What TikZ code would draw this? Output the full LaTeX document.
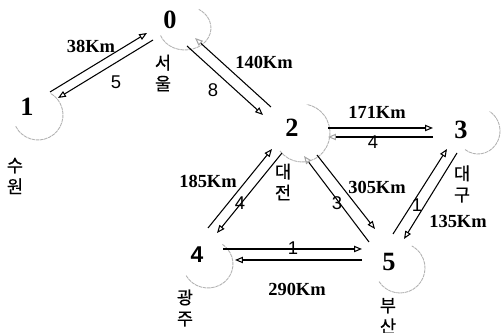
\documentclass[tikz,border=0pt]{standalone}
\usepackage{fontspec}
\setmainfont{Liberation Serif}
\newfontfamily\sansf{Liberation Sans}
\newfontfamily\kr[FakeBold=0.6]{Noto Sans CJK KR}
\usetikzlibrary{arrows.meta}
\begin{document}
\begin{tikzpicture}[x=0.02cm,y=-0.02cm,
  num/.style={font=\fontsize{15}{15}\selectfont\bfseries, inner sep=0pt},
  numsans/.style={font=\sansf\fontsize{13}{13}\selectfont\bfseries, inner sep=0pt},
  km/.style={font=\fontsize{10.5}{10.5}\selectfont\bfseries, inner sep=0pt},
  lab/.style={font=\sansf\fontsize{10.5}{10.5}\selectfont, inner sep=0pt},
  city/.style={font=\kr\fontsize{10}{12}\selectfont, inner sep=0pt, align=center},
  arr/.style={line width=0.6pt, -{Triangle[open,length=4.5pt,width=3.6pt]}},
  garr/.style={line width=0.6pt, -{Triangle[open,length=4.5pt,width=3.6pt,color=gray!70]}},
  ring/.style={gray!60, line width=0.5pt, dash pattern=on 2pt off 0.4pt}]
\useasboundingbox (0,0) rectangle (501,333);
% vertex numbers
\node[num] (n0) at (170,20) {0};
\node[num] (n1) at (27,107) {1};
\node[num] (n2) at (292,128) {2};
\node[num] (n3) at (461,130) {3};
\node[numsans] (n4) at (197,255) {4};
\node[num] (n5) at (389,262) {5};
% partial circles
\draw[ring] ([shift={(15,8)}]n0.center) ++(200:0.52cm and 0.44cm) arc[start angle=200,end angle=418,x radius=0.52cm,y radius=0.44cm];
\draw[ring] ([shift={(11,8)}]n1.center) ++(207:0.5cm and 0.5cm) arc[start angle=207,end angle=420,x radius=0.5cm,y radius=0.5cm];
\draw[ring] ([shift={(10,5)}]n2.center) ++(218:0.56cm and 0.58cm) arc[start angle=218,end angle=440,x radius=0.56cm,y radius=0.58cm];
\draw[ring] ([shift={(17,1)}]n3.center) ++(234:0.44cm and 0.46cm) arc[start angle=234,end angle=418,x radius=0.44cm,y radius=0.46cm];
\draw[ring] ([shift={(11,9)}]n4.center) ++(209:0.5cm and 0.48cm) arc[start angle=209,end angle=416,x radius=0.5cm,y radius=0.48cm];
\draw[ring] ([shift={(11,6)}]n5.center) ++(213:0.5cm and 0.5cm) arc[start angle=213,end angle=422,x radius=0.5cm,y radius=0.5cm];
% city names
\node[city] (c0) at (163,73) {서\\울};
\node[city] (c1) at (15,176) {수\\원};
\node[city] (c2) at (283,182) {대\\전};
\node[city] (c3) at (462,184) {대\\구};
\node[city] (c4) at (185,308) {광\\주};
\node[city] (c5) at (388,316) {부\\산};
% edges 0-1
\draw[arr] ([shift={(23,-15)}]n1.center) -- ([shift={(-23,13)}]n0.center);
\draw[arr] ([shift={(-17,20)}]n0.center) -- ([shift={(31,-9)}]n1.center);
% edges 0-2
\draw[arr] ([shift={(17,26)}]n0.center) -- ([shift={(-29,-13)}]n2.center);
\draw[garr] ([shift={(-21,-21)}]n2.center) -- ([shift={(25,18)}]n0.center);
% edges 2-3
\draw[arr] ([shift={(36,0)}]n2.center) -- ([shift={(-28,-2)}]n3.center);
\draw[garr] ([shift={(-28,7)}]n3.center) -- ([shift={(36,9)}]n2.center);
% edges 2-4
\draw[arr] ([shift={(11,-27)}]n4.center) -- ([shift={(-20,21)}]n2.center);
\draw[arr] ([shift={(-10,25)}]n2.center) -- ([shift={(20,-22)}]n4.center);
% edges 2-5
\draw[arr] ([shift={(25,27)}]n2.center) -- ([shift={(-14,-33)}]n5.center);
\draw[garr] ([shift={(-20,-20)}]n5.center) -- ([shift={(12,28)}]n2.center);
% edges 3-5
\draw[arr] ([shift={(4,-28)}]n5.center) -- ([shift={(-14,19)}]n3.center);
\draw[arr] ([shift={(-4,23)}]n3.center) -- ([shift={(15,-23)}]n5.center);
% edges 4-5
\draw[arr] ([shift={(26,-6)}]n4.center) -- ([shift={(-27,-13)}]n5.center);
\draw[arr] ([shift={(-27,-2)}]n5.center) -- ([shift={(38,5)}]n4.center);
% distance labels
\node[km] (d01) at (91,46) {38Km};
\node[km] (d02) at (264,62) {140Km};
\node[km] (d23) at (377,112) {171Km};
\node[km] (d25) at (377,187) {305Km};
\node[km] (d24) at (208,181) {185Km};
\node[km] (d35) at (458,221) {135Km};
\node[km] (d45) at (297,289) {290Km};
% weights
\node[lab] (w01) at (116,82) {5};
\node[lab] (w02) at (213,90) {8};
\node[lab] (w23) at (373,142) {4};
\node[lab] (w24) at (240,203) {4};
\node[lab] (w25) at (337,203) {3};
\node[lab] (w35) at (417,205) {1};
\node[lab] (w45) at (293,248) {1};
\end{tikzpicture}
\end{document}
